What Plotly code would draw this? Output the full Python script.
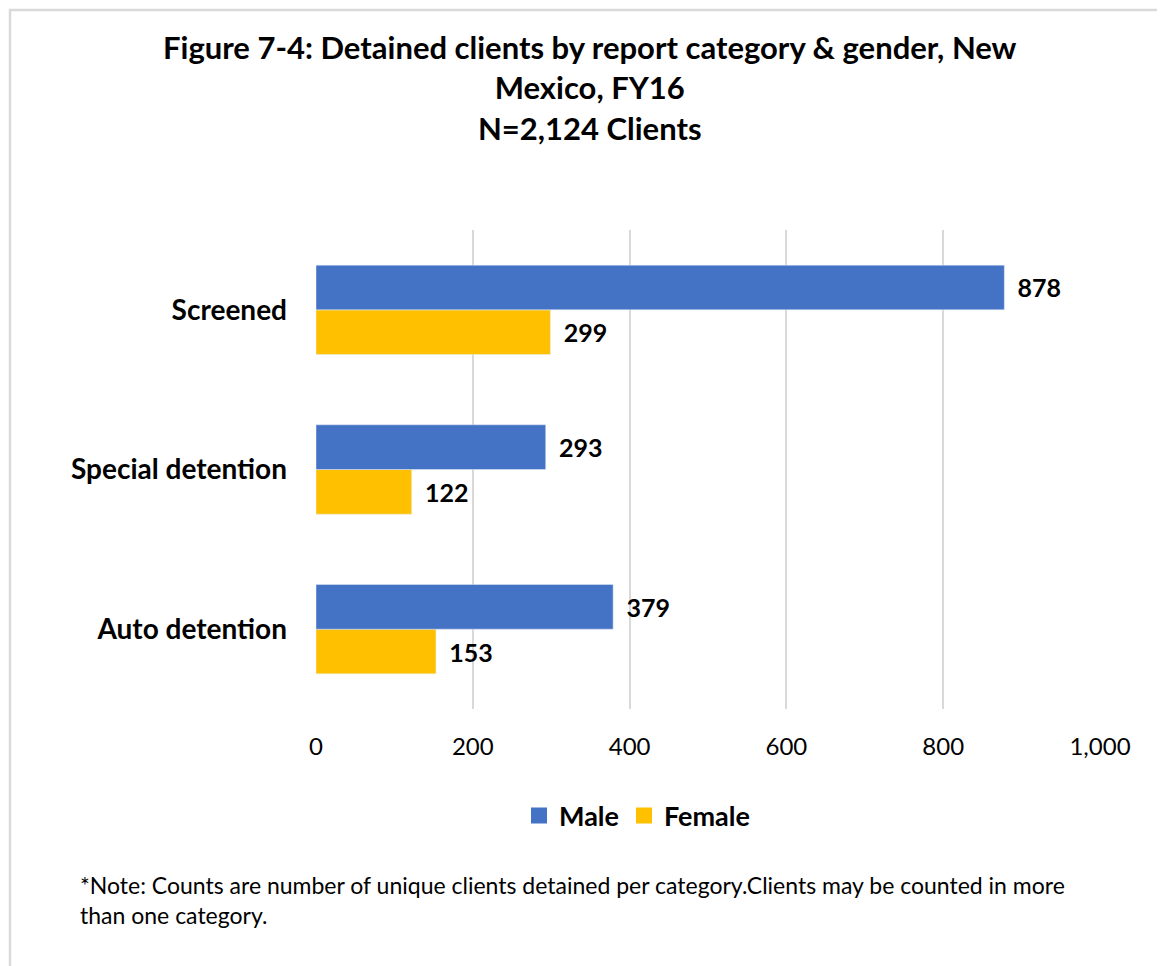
import plotly.graph_objects as go

categories = ["Auto detention", "Special detention", "Screened"]
male = [379, 293, 878]
female = [153, 122, 299]
x_ticks = [0, 200, 400, 600, 800, 1000]
x_tick_labels = ["0", "200", "400", "600", "800", "1,000"]

FONT = "Lato"
W, H = 1165, 966
OFF = 8  # page body offset
L, R, T, B = 308, 73, 222, 265
MALE_C = "#4472C4"
FEMALE_C = "#FFC000"

fig = go.Figure()
fig.add_trace(go.Bar(
    y=categories, x=female, name="Female", orientation="h",
    marker=dict(color=FEMALE_C), showlegend=False,
    text=["\u00a0\u2006" + str(v) for v in female], textposition="outside",
    textfont=dict(family=FONT, size=25, color="#000000", weight="bold"),
    cliponaxis=False,
))
fig.add_trace(go.Bar(
    y=categories, x=male, name="Male", orientation="h",
    marker=dict(color=MALE_C), showlegend=False,
    text=["\u00a0\u2006" + str(v) for v in male], textposition="outside",
    textfont=dict(family=FONT, size=25, color="#000000", weight="bold"),
    cliponaxis=False,
))
# legend entries
fig.add_trace(go.Scatter(x=[None], y=[None], mode="markers", name="Male",
                         marker=dict(symbol="square", size=16, color=MALE_C)))
fig.add_trace(go.Scatter(x=[None], y=[None], mode="markers", name="Female",
                         marker=dict(symbol="square", size=16, color=FEMALE_C)))

pw = W - L - R
ph = H - T - B

def px(x):
    return (x - OFF - L) / pw

def py(y):
    return 1 - (y - OFF - T) / ph

annotations = [
    dict(text="<b>Figure 7-4: Detained clients by report category & gender, New<br>Mexico, FY16<br>N=2,124 Clients</b>",
         x=px(590), y=py(26), xref="paper", yref="paper", xanchor="center", yanchor="top",
         showarrow=False, align="center", font=dict(family=FONT, size=31, color="#000000")),
    dict(text="*Note: Counts are number of unique clients detained per category.Clients may be counted in more<br>than one category.",
         x=px(78), y=py(869), xref="paper", yref="paper", xanchor="left", yanchor="top",
         showarrow=False, align="left", font=dict(family=FONT, size=23, color="#000000")),
]

fig.update_layout(
    width=W, height=H,
    margin=dict(l=L, r=R, t=T, b=B, pad=0),
    paper_bgcolor="white", plot_bgcolor="white",
    barmode="group", bargap=0.44, bargroupgap=0,
    font=dict(family=FONT, color="#000000"),
    showlegend=True,
    legend=dict(orientation="h", x=px(637), y=py(816), xanchor="center", yanchor="middle",
                font=dict(family=FONT, size=27, color="#000000", weight="bold"),
                itemwidth=30, itemclick=False),
    xaxis=dict(range=[0, 1000], tickvals=x_ticks, ticktext=x_tick_labels,
               showgrid=True, gridcolor="#D9D9D9", gridwidth=1.5, zeroline=False,
               showline=False, ticks="", ticklabelstandoff=21,
               tickfont=dict(family=FONT, size=24, color="#000000")),
    yaxis=dict(showgrid=False, showline=False, ticks="", ticklabelstandoff=28,
               tickfont=dict(family=FONT, size=28, color="#000000", weight="bold")),
    annotations=annotations,
    shapes=[dict(type="rect", xref="paper", yref="paper",
                 x0=px(10), x1=px(1250), y0=py(10), y1=py(1050),
                 line=dict(color="#D9D9D9", width=2.5), fillcolor="rgba(0,0,0,0)", layer="below")],
)

fig.write_html("out.html")
